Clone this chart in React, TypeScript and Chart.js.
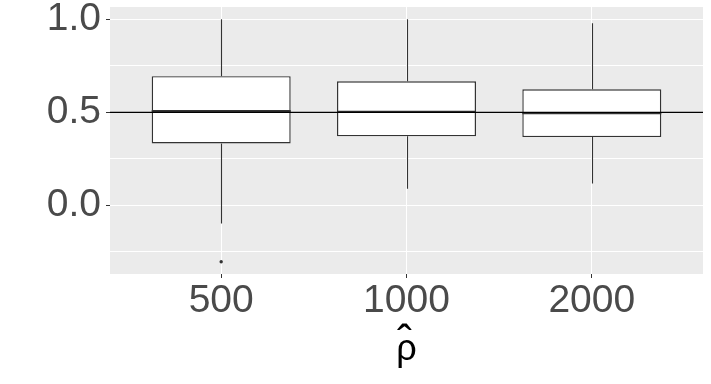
import React, { useEffect, useRef } from 'react';
import { Chart, registerables } from 'chart.js';

Chart.register(...registerables);

// ---- data ----
const categories = ['500', '1000', '2000'];
const positions = [1, 2, 3];
const whiskerLow = [-0.097, 0.089, 0.118];
const q1 = [0.333, 0.371, 0.367];
const medians = [0.507, 0.503, 0.495];
const q3 = [0.694, 0.667, 0.624];
const whiskerHigh = [1.0, 1.0, 0.978];
const outlierGroups = [1];
const outlierValues = [-0.303];
const yMajorTicks = [0, 0.5, 1.0];
const yMinorTicks = [-0.25, 0.25, 0.75];
const refLineValue = 0.5;
const xTitleSymbol = 'ρ';
const xTitleAccent = 'ˆ';

const FONT = "'Liberation Sans', Arial, sans-serif";

const panelBg = {
  id: 'panelBg',
  beforeDraw(chart: any) {
    const { ctx, chartArea: a } = chart;
    ctx.save();
    ctx.fillStyle = '#EBEBEB';
    ctx.fillRect(a.left, a.top, a.right - a.left, a.bottom - a.top);
    ctx.restore();
  },
};

const boxExtras = {
  id: 'boxExtras',
  afterDatasetDraw(chart: any, args: any) {
    if (args.index !== 0) return;
    const { ctx } = chart;
    const xs = chart.scales.x;
    const ys = chart.scales.y;
    const meta = chart.getDatasetMeta(0);
    ctx.save();
    ctx.strokeStyle = '#333333';
    positions.forEach((p, i) => {
      const cx = Math.round(xs.getPixelForValue(p)) + 0.5;
      const bar = meta.data[i];
      const w = bar ? bar.getProps(['width'], true).width : 0;
      ctx.lineWidth = 1.1;
      ctx.beginPath();
      ctx.moveTo(cx, ys.getPixelForValue(q3[i]));
      ctx.lineTo(cx, ys.getPixelForValue(whiskerHigh[i]));
      ctx.moveTo(cx, ys.getPixelForValue(q1[i]));
      ctx.lineTo(cx, ys.getPixelForValue(whiskerLow[i]));
      ctx.stroke();
      ctx.lineWidth = 2.2;
      ctx.beginPath();
      const my = ys.getPixelForValue(medians[i]);
      ctx.moveTo(xs.getPixelForValue(p) - w / 2, my);
      ctx.lineTo(xs.getPixelForValue(p) + w / 2, my);
      ctx.stroke();
    });
    ctx.restore();
  },
};

const xTitlePlugin = {
  id: 'xTitlePlugin',
  afterDraw(chart: any) {
    const { ctx, chartArea: a } = chart;
    const cx = (a.left + a.right) / 2;
    ctx.save();
    ctx.fillStyle = '#000000';
    ctx.textAlign = 'center';
    ctx.textBaseline = 'alphabetic';
    ctx.font = `36px ${FONT}`;
    ctx.fillText(xTitleSymbol, cx, a.bottom + 86);
    ctx.font = `44px ${FONT}`;
    ctx.fillText(xTitleAccent, cx - 2, a.bottom + 82);
    ctx.restore();
  },
};

export default function App() {
  const ref = useRef<HTMLCanvasElement | null>(null);

  useEffect(() => {
    if (!ref.current) return;
    const chart = new Chart(ref.current, {
      type: 'bar',
      data: {
        datasets: [
          {
            type: 'bar',
            data: positions.map((p, i) => ({ x: p, y: [q1[i], q3[i]] })) as any,
            backgroundColor: '#FFFFFF',
            borderColor: '#333333',
            borderWidth: 1.4,
            borderSkipped: false,
            categoryPercentage: 0.75,
            barPercentage: 1,
            order: 2,
          } as any,
          {
            type: 'scatter',
            data: outlierGroups.map((g, i) => ({ x: g, y: outlierValues[i] })),
            pointRadius: 1.7,
            pointBackgroundColor: '#333333',
            pointBorderWidth: 0,
            order: 1,
          } as any,
          {
            type: 'line',
            data: [
              { x: 0.4, y: refLineValue },
              { x: 3.6, y: refLineValue },
            ],
            borderColor: '#000000',
            borderWidth: 1.2,
            pointRadius: 0,
            order: 0,
          } as any,
        ],
      },
      options: {
        animation: false,
        responsive: false,
        devicePixelRatio: 1,
        layout: { padding: { left: 0, top: 7, right: 8, bottom: 0 } },
        plugins: {
          legend: { display: false },
          tooltip: { enabled: false },
        },
        scales: {
          x: {
            type: 'linear',
            min: 0.4,
            max: 3.6,
            offset: false,
            afterBuildTicks: (s: any) => {
              s.ticks = positions.map((v) => ({ value: v }));
            },
            afterFit: (s: any) => {
              s.height = 110;
              s.paddingLeft = 0;
              s.paddingRight = 0;
            },
            ticks: {
              autoSkip: false,
              maxRotation: 0,
              callback: (_v: any, i: number) => categories[i],
              font: { family: FONT, size: 39 },
              color: '#4A4A4A',
              padding: 0,
            },
            grid: {
              color: '#FFFFFF',
              lineWidth: 1,
              offset: false,
              tickLength: 4,
              tickColor: '#333333',
            },
            border: { display: false },
            title: { display: false },
          } as any,
          y: {
            type: 'linear',
            min: -0.369,
            max: 1.066,
            afterBuildTicks: (s: any) => {
              s.ticks = [...yMinorTicks, ...yMajorTicks]
                .sort((a, b) => a - b)
                .map((v) => ({ value: v }));
            },
            afterFit: (s: any) => {
              s.width = 110;
              s.paddingTop = 0;
              s.paddingBottom = 0;
            },
            ticks: {
              autoSkip: false,
              callback: (v: any) => (yMajorTicks.includes(v) ? Number(v).toFixed(1) : ''),
              font: { family: FONT, size: 39 },
              color: '#4A4A4A',
              padding: 5,
            },
            grid: {
              color: '#FFFFFF',
              lineWidth: 1,
              tickLength: 4,
              tickColor: (c: any) =>
                c.tick && yMajorTicks.includes(c.tick.value) ? '#333333' : 'rgba(0,0,0,0)',
            },
            border: { display: false },
          } as any,
        },
      },
      plugins: [panelBg, boxExtras, xTitlePlugin],
    });
    return () => chart.destroy();
  }, []);

  return (
    <div style={{ position: 'fixed', left: 0, top: 0, width: 711, height: 384, background: '#FFFFFF' }}>
      <canvas ref={ref} width={711} height={384} style={{ display: 'block' }} />
    </div>
  );
}
